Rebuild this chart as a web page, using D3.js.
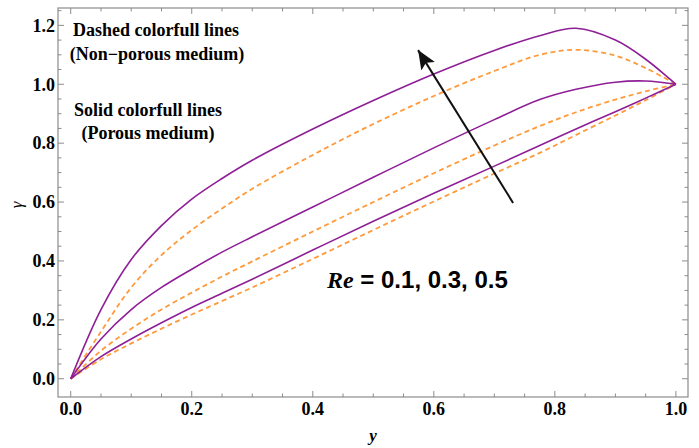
<!DOCTYPE html>
<html>
<head>
<meta charset="utf-8">
<script src="https://cdn.jsdelivr.net/npm/d3@7"></script>
<style>
  body { margin: 0; background: #fff; }
  svg { display: block; }
</style>
</head>
<body>
<div id="canvas"></div>
<script>
// sample positions along y (horizontal axis)
const xs = [0, 0.05, 0.1, 0.15, 0.2, 0.25, 0.3, 0.4, 0.5, 0.6, 0.7, 0.775, 0.835, 0.9, 0.95, 1.0];

// solid purple lines (porous medium), Re = 0.1, 0.3, 0.5
const porousRe01 = [0, 0.075, 0.135, 0.19, 0.242, 0.29, 0.338, 0.437, 0.535, 0.63, 0.722, 0.792, 0.848, 0.907, 0.953, 1.0];
const porousRe03 = [0, 0.135, 0.235, 0.31, 0.372, 0.43, 0.482, 0.583, 0.684, 0.784, 0.88, 0.948, 0.983, 1.007, 1.011, 1.0];
const porousRe05 = [0, 0.235, 0.405, 0.52, 0.61, 0.68, 0.742, 0.848, 0.945, 1.035, 1.115, 1.165, 1.19, 1.15, 1.085, 1.0];

// dashed orange lines (non-porous medium), Re = 0.1, 0.3, 0.5
const nonPorousRe01 = [0, 0.066, 0.12, 0.17, 0.218, 0.264, 0.31, 0.407, 0.505, 0.602, 0.697, 0.767, 0.828, 0.894, 0.946, 1.0];
const nonPorousRe03 = [0, 0.095, 0.17, 0.235, 0.2925, 0.347, 0.3985, 0.50, 0.60, 0.698, 0.792, 0.858, 0.905, 0.948, 0.976, 1.0];
const nonPorousRe05 = [0, 0.16, 0.31, 0.42, 0.505, 0.578, 0.645, 0.76, 0.865, 0.96, 1.045, 1.1, 1.117, 1.097, 1.055, 1.0];

const majorTicks = [0, 0.2, 0.4, 0.6, 0.8, 1.0, 1.2];
const reLabel = "= 0.1, 0.3, 0.5";

const W = 699, H = 448;
const frame = {left: 58, right: 688, top: 8, bottom: 397};

const svg = d3.select("#canvas")
    .append("svg")
    .attr("width", W)
    .attr("height", H);

const x = d3.scaleLinear().domain([-0.021, 1.02]).range([frame.left, frame.right]);
const y = d3.scaleLinear().domain([-0.062, 1.259]).range([frame.bottom, frame.top]);

const minorX = d3.range(0, 1.0001, 0.05);
const minorY = d3.range(0, 1.2501, 0.05);
const isMajor = v => Math.abs(v / 0.2 - Math.round(v / 0.2)) < 1e-6;

// frame
svg.append("rect")
    .attr("x", frame.left).attr("y", frame.top)
    .attr("width", frame.right - frame.left)
    .attr("height", frame.bottom - frame.top)
    .attr("fill", "none")
    .attr("stroke", "#8c8c8c")
    .attr("stroke-width", 1.2);

const tickG = svg.append("g").attr("stroke", "#8c8c8c").attr("stroke-width", 1);
minorX.forEach(function(v) {
    const len = isMajor(v) ? 6 : 3.5;
    tickG.append("line").attr("x1", x(v)).attr("x2", x(v))
        .attr("y1", frame.bottom).attr("y2", frame.bottom - len);
    tickG.append("line").attr("x1", x(v)).attr("x2", x(v))
        .attr("y1", frame.top).attr("y2", frame.top + len);
});
minorY.forEach(function(v) {
    const len = isMajor(v) ? 6 : 3.5;
    tickG.append("line").attr("y1", y(v)).attr("y2", y(v))
        .attr("x1", frame.left).attr("x2", frame.left + len);
    tickG.append("line").attr("y1", y(v)).attr("y2", y(v))
        .attr("x1", frame.right).attr("x2", frame.right - len);
});

const serif = "'Liberation Serif', 'Times New Roman', serif";

// tick labels
svg.append("g").selectAll("text")
    .data(majorTicks.filter(d => d <= 1))
    .enter().append("text")
    .attr("x", d => x(d))
    .attr("y", 415)
    .attr("text-anchor", "middle")
    .style("font-family", serif).style("font-weight", "bold").style("font-size", "18px")
    .text(d => d.toFixed(1));

svg.append("g").selectAll("text")
    .data(majorTicks)
    .enter().append("text")
    .attr("x", frame.left - 3)
    .attr("y", d => y(d))
    .attr("dy", "0.35em")
    .attr("text-anchor", "end")
    .style("font-family", serif).style("font-weight", "bold").style("font-size", "18px")
    .text(d => d.toFixed(1));

// axis labels
svg.append("text")
    .attr("x", 373).attr("y", 441)
    .attr("text-anchor", "middle")
    .style("font-family", serif).style("font-style", "italic").style("font-weight", "bold")
    .style("font-size", "17px")
    .text("y");

svg.append("text")
    .attr("transform", "translate(22,205) rotate(-90)")
    .attr("text-anchor", "middle")
    .style("font-family", serif).style("font-style", "italic")
    .style("font-size", "17px")
    .text("γ");

// curves
const line = d3.line()
    .x(d => x(d[0]))
    .y(d => y(d[1]))
    .curve(d3.curveCatmullRom.alpha(0.5));

const series = [
    {ys: nonPorousRe01, dashed: true},
    {ys: nonPorousRe03, dashed: true},
    {ys: nonPorousRe05, dashed: true},
    {ys: porousRe01, dashed: false},
    {ys: porousRe03, dashed: false},
    {ys: porousRe05, dashed: false}
];

svg.append("g").selectAll("path")
    .data(series)
    .enter().append("path")
    .attr("d", s => line(xs.map((v, i) => [v, s.ys[i]])))
    .attr("fill", "none")
    .attr("stroke", s => s.dashed ? "#ff9a3c" : "#8e1f96")
    .attr("stroke-width", s => s.dashed ? 1.8 : 1.6)
    .attr("stroke-dasharray", s => s.dashed ? "5,3.5" : null);

// annotations
const notes = [
    {text: "Dashed colorfull lines", cx: 156, by: 36},
    {text: "(Non\u2212porous medium)", cx: 157, by: 60},
    {text: "Solid colorfull lines", cx: 148, by: 116},
    {text: "(Porous medium)", cx: 148, by: 139}
];
svg.append("g").selectAll("text")
    .data(notes)
    .enter().append("text")
    .attr("x", d => d.cx).attr("y", d => d.by)
    .attr("text-anchor", "middle")
    .style("font-family", serif).style("font-weight", "bold").style("font-size", "18px")
    .text(d => d.text);

const re = svg.append("text")
    .attr("x", 327).attr("y", 288)
    .style("font-size", "24px").style("font-weight", "bold");
re.append("tspan")
    .style("font-family", serif).style("font-style", "italic")
    .text("Re");
re.append("tspan")
    .style("font-family", "'Liberation Sans', Arial, sans-serif")
    .text(" " + reLabel);

// arrow showing increasing Re
const tail = [0.731, 0.597], head = [0.574, 1.116];
svg.append("defs").append("marker")
    .attr("id", "arrowhead")
    .attr("markerUnits", "userSpaceOnUse")
    .attr("markerWidth", 22).attr("markerHeight", 18)
    .attr("refX", 19).attr("refY", 8)
    .attr("orient", "auto")
    .append("path")
    .attr("d", "M0,0 L19,8 L0,16 L4,8 Z")
    .attr("fill", "#111");

svg.append("line")
    .attr("x1", x(tail[0])).attr("y1", y(tail[1]))
    .attr("x2", x(head[0])).attr("y2", y(head[1]))
    .attr("stroke", "#111")
    .attr("stroke-width", 2)
    .attr("marker-end", "url(#arrowhead)");
</script>
</body>
</html>
